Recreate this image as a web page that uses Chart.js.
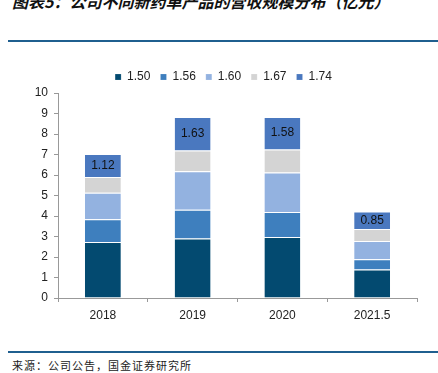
<!DOCTYPE html>
<html>
<head>
<meta charset="utf-8">
<script src="https://cdn.jsdelivr.net/npm/chart.js@4.4.0/dist/chart.umd.min.js"></script>
<style>
    body { margin: 0; width: 438px; height: 373px; background: #fff; position: relative; overflow: hidden; font-family: "Noto Sans CJK SC", sans-serif; }
    #title { position: absolute; left: 12px; top: -7px; font-size: 16px; line-height: 16px; font-weight: bold; font-style: italic; color: #111; white-space: nowrap; }
    .rule { position: absolute; left: 8px; right: 0; height: 2px; background: #1f5f8f; }
    #source { position: absolute; left: 12px; top: 358px; font-size: 11px; line-height: 14px; letter-spacing: 1px; color: #222; white-space: nowrap; }
    #chart-box { position: absolute; left: 0; top: 55px; width: 438px; height: 275px; }
</style>
</head>
<body>
<div id="title">图表5：公司不同新药单产品的营收规模分布（亿元）</div>
<div class="rule" style="top:40px"></div>
<div id="chart-box"><canvas id="chart"></canvas></div>
<div class="rule" style="top:351px"></div>
<div id="source">来源：公司公告，国金证券研究所</div>

<script>
// categories and series (亿元)
const years = ['2018', '2019', '2020', '2021.5'];
const seriesNames = ['1.50', '1.56', '1.60', '1.67', '1.74'];
const s150 = [2.73, 2.90, 2.98, 1.39];
const s156 = [1.11, 1.41, 1.22, 0.50];
const s160 = [1.30, 1.87, 1.92, 0.89];
const s167 = [0.76, 1.02, 1.13, 0.59];
const s174 = [1.12, 1.63, 1.58, 0.85];
const yTicks = [0, 1, 2, 3, 4, 5, 6, 7, 8, 9, 10];

const colors = ['#034a70', '#3e7fbe', '#93b2e0', '#d4d4d4', '#4a78bf'];
const seriesData = [s150, s156, s160, s167, s174];
const fontFamily = '"Liberation Sans", Arial, sans-serif';

// labels on the top segment only
const topLabels = {
    id: 'topLabels',
    afterDatasetsDraw(chart) {
        const ctx = chart.ctx;
        const meta = chart.getDatasetMeta(4);
        ctx.save();
        ctx.font = '12px ' + fontFamily;
        ctx.fillStyle = '#111';
        ctx.textAlign = 'center';
        ctx.textBaseline = 'middle';
        meta.data.forEach((bar, i) => {
            const y = (bar.y + bar.base) / 2;
            ctx.fillText(s174[i].toFixed(2), bar.x, y);
        });
        ctx.restore();
    }
};

// legend sits centred over the plot area, not the whole canvas
const shiftLegend = {
    id: 'shiftLegend',
    afterLayout(chart) {
        chart.legend.left += 15;
        chart.legend.right += 15;
    }
};

const ctx = document.getElementById('chart').getContext('2d');
new Chart(ctx, {
    type: 'bar',
    data: {
        labels: years,
        datasets: seriesData.map((d, i) => ({
            label: seriesNames[i],
            data: d,
            backgroundColor: colors[i],
            borderColor: 'rgba(255,255,255,0.6)',
            borderWidth: { top: 1, bottom: 0, left: 0, right: 0 },
            borderSkipped: false,
            barPercentage: 0.4,
            categoryPercentage: 1
        }))
    },
    options: {
        responsive: true,
        maintainAspectRatio: false,
        animation: false,
        layout: { padding: { left: 0, right: 21, top: 6, bottom: 0 } },
        plugins: {
            legend: {
                position: 'top',
                labels: {
                    boxWidth: 6,
                    boxHeight: 6,
                    padding: 10,
                    color: '#222',
                    font: { size: 12, family: fontFamily }
                }
            },
            tooltip: { enabled: false }
        },
        scales: {
            x: {
                stacked: true,
                grid: { drawOnChartArea: false, drawTicks: true, tickLength: 4, color: '#999' },
                border: { color: '#999' },
                ticks: { color: '#222', padding: 6, font: { size: 12, family: fontFamily } },
                afterFit(scale) { scale.height = 32; }
            },
            y: {
                stacked: true,
                min: yTicks[0],
                max: yTicks[yTicks.length - 1],
                grid: { drawOnChartArea: false, drawTicks: true, tickLength: 4, color: '#999' },
                border: { color: '#999' },
                ticks: {
                    stepSize: 1,
                    color: '#222',
                    padding: 6,
                    font: { size: 12, family: fontFamily }
                },
                afterFit(scale) { scale.width = 58; }
            }
        }
    },
    plugins: [topLabels, shiftLegend]
});
</script>
</body>
</html>
